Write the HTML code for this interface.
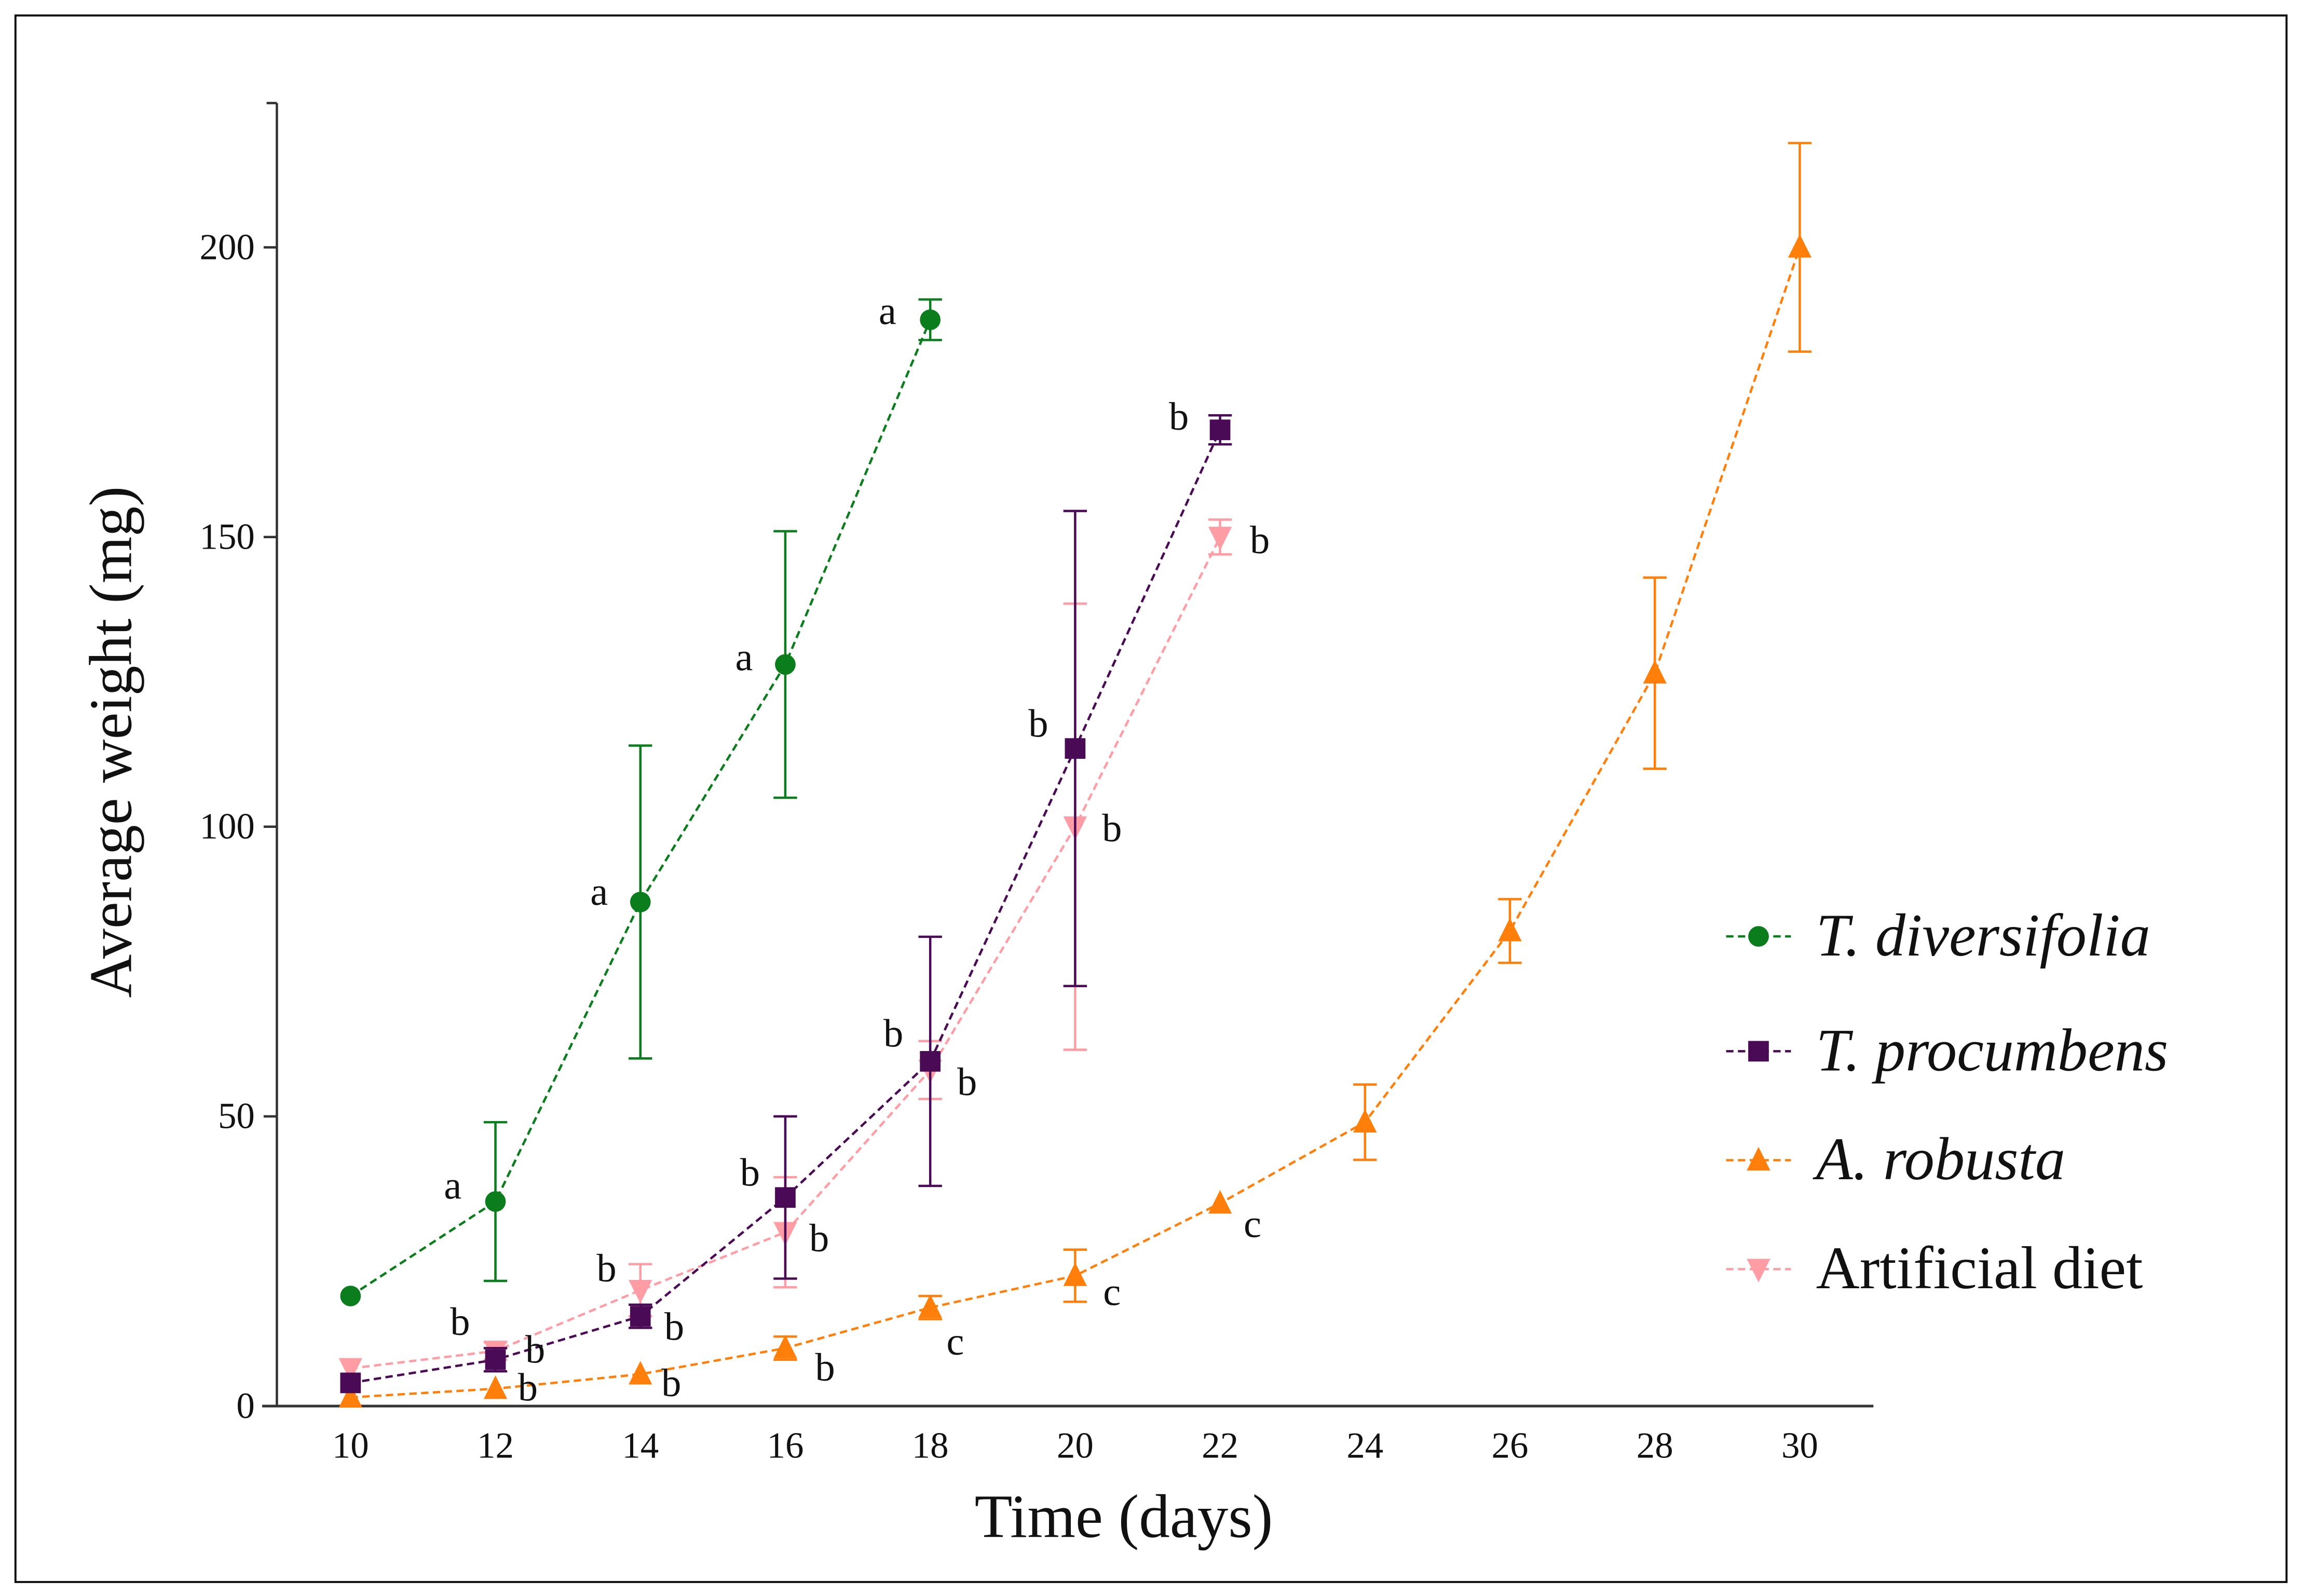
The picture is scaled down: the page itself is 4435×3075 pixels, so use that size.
<!DOCTYPE html>
<html><head><meta charset="utf-8"><style>
html,body{margin:0;padding:0;background:#fff;}
svg{display:block;}
text{font-family:"Liberation Serif",serif;fill:#111;}
</style></head><body>
<svg id="chart" width="4435" height="3075" viewBox="0 0 1563 1084" preserveAspectRatio="none" xmlns="http://www.w3.org/2000/svg">
<rect x="10.5" y="10.5" width="1542" height="1064" fill="#fff" stroke="#111" stroke-width="1.4"/>
<g id="axes"></g><g id="series"></g><g id="labels"></g><g id="legend"></g>
<text transform="translate(89,504) rotate(-90)" text-anchor="middle" font-size="41">Average weight (mg)</text>
<text x="763" y="1044" text-anchor="middle" font-size="42">Time (days)</text>
</svg>
<script>
const xTicks=[10,12,14,16,18,20,22,24,26,28,30];
const yTicks=[0,50,100,150,200];
const seriesNames=["T. diversifolia","T. procumbens","A. robusta","Artificial diet"];
const tdDays=[10,12,14,16,18];
const tdMean=[19,35.3,87,128,187.5];
const tdErr=[0,13.7,27,23,3.5];
const tpDays=[10,12,14,16,18,20,22];
const tpMean=[4,8,15.5,36,59.5,113.5,168.5];
const tpErr=[0,2,2,14,21.5,41,2.5];
const arDays=[10,12,14,16,18,20,22,24,26,28,30];
const arMean=[1.5,3,5.5,10,17,22.5,35,49,82,126.5,200];
const arErr=[0,0,0,2,2,4.5,0,6.5,5.5,16.5,18];
const adDays=[10,12,14,16,18,20,22];
const adMean=[6.5,9.5,20,30,58,100,150];
const adErr=[0,1.5,4.5,9.5,5,38.5,3];
const tdLetters=["","a","a","a","a"];
const tpLetters=["","b","b","b","b","b","b"];
const arLetters=["","b","b","b","c","c","c","","","",""];
const adLetters=["","b","b","b","b","b","b"];

const NS="http://www.w3.org/2000/svg";
const X=d=>238+(d-10)*(1222-238)/20;
const Y=v=>955-v*(955-168)/200;
function mk(tag,attrs,parent){const e=document.createElementNS(NS,tag);for(const k in attrs)e.setAttribute(k,attrs[k]);parent.appendChild(e);return e;}
const axes=document.getElementById('axes');
let e;
e=mk('line',{x1:188,y1:70,x2:188,y2:955,stroke:'#333','stroke-width':1.6},axes);


e=mk('line',{x1:181,y1:70,x2:188,y2:70,stroke:'#333','stroke-width':1.6},axes);


e=mk('line',{x1:178,y1:955,x2:1272,y2:955,stroke:'#333','stroke-width':1.8},axes);


yTicks.forEach(v=>{
  e=mk('line',{x1:179,y1:Y(v),x2:188,y2:Y(v),stroke:'#333','stroke-width':1.6},axes);
  
  
  e=mk('text',{x:173,y:Y(v)+8,'text-anchor':'end','font-size':25},axes);e.textContent=v;
  
  
});
xTicks.forEach(d=>{
  e=mk('text',{x:X(d),y:990,'text-anchor':'middle','font-size':25},axes);e.textContent=d;
  
  
});
function marker(type,cx,cy,col,parent,s){
  s=s||1;let m;
  if(type==='circle')m=mk('circle',{cx:cx,cy:cy,r:7*s,fill:col},parent);
  else if(type==='square')m=mk('rect',{x:cx-7*s,y:cy-7*s,width:14*s,height:14*s,fill:col},parent);
  else if(type==='up')m=mk('polygon',{points:`${cx},${cy-9*s} ${cx-8*s},${cy+7*s} ${cx+8*s},${cy+7*s}`,fill:col},parent);
  else m=mk('polygon',{points:`${cx},${cy+9*s} ${cx-8*s},${cy-7*s} ${cx+8*s},${cy-7*s}`,fill:col},parent);
  return m;
}
const sDefs=[
 {days:tdDays,mean:tdMean,err:tdErr,letters:tdLetters,col:'#0b7d1c',mk:'circle',off:[[0,0],[-29,-10],[-28,-6],[-28,-4],[-29,-5]]},
 {days:tpDays,mean:tpMean,err:tpErr,letters:tpLetters,col:'#4b0a55',mk:'square',off:[[0,0],[27,-6],[23,8],[-24,-16],[-25,-18],[-25,-16],[-28,-8]]},
 {days:arDays,mean:arMean,err:arErr,letters:arLetters,col:'#ff7f0a',mk:'up',off:[[0,0],[22,0],[21,7],[27,14],[17,24],[25,12],[22,15],[0,0],[0,0],[0,0],[0,0]]},
 {days:adDays,mean:adMean,err:adErr,letters:adLetters,col:'#ff9ca4',mk:'down',off:[[0,0],[-24,-19],[-23,-14],[23,5],[25,9],[25,2],[27,3]]}
];
const sg=document.getElementById('series'), lg=document.getElementById('labels');
[3,2,1,0].forEach(i=>{
  const s=sDefs[i];
  const g=mk('g',{},sg);
  
  
  const pts=s.days.map((d,j)=>X(d)+','+Y(s.mean[j])).join(' ');
  e=mk('polyline',{points:pts,fill:'none',stroke:s.col,'stroke-width':1.6,'stroke-dasharray':'5,3'},g);
  
  
  s.days.forEach((d,j)=>{
    const er=s.err[j];
    if(er>0){
      const x=X(d),y1=Y(s.mean[j]-er),y2=Y(s.mean[j]+er);
      e=mk('path',{d:`M${x},${y1}V${y2}M${x-8},${y1}H${x+8}M${x-8},${y2}H${x+8}`,stroke:s.col,'stroke-width':1.6,fill:'none'},g);
      
      
    }
    e=marker(s.mk,X(d),Y(s.mean[j]),s.col,g);
    
    
    if(s.letters[j]){
      e=mk('text',{x:X(d)+s.off[j][0],y:Y(s.mean[j])+s.off[j][1]+8,'text-anchor':'middle','font-size':27},lg);
      e.textContent=s.letters[j];
      
      
    }
  });
});
const leg=document.getElementById('legend');
const ly=[636,714,788,862];
sDefs.forEach((s,i)=>{
  const g=mk('g',{},leg);
  
  
  e=mk('line',{x1:1172,y1:ly[i],x2:1216,y2:ly[i],stroke:s.col,'stroke-width':1.6,'stroke-dasharray':'5,3'},g);
  
  
  e=marker(s.mk,1194,ly[i],s.col,g);
  
  
  e=mk('text',{x:1233,y:ly[i]+13,'font-size':41,'font-style':i<3?'italic':'normal'},g);
  e.textContent=seriesNames[i];
  
  
});
</script>
</body></html>
